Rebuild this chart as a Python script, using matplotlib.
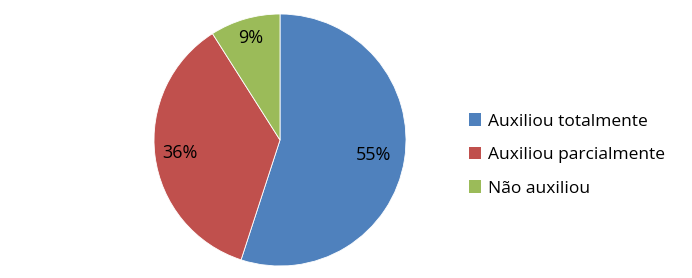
import matplotlib.pyplot as plt
from matplotlib.patches import Patch
import math

categories = ["Auxiliou totalmente", "Auxiliou parcialmente", "Não auxiliou"]
values = [55, 36, 9]
colors = ["#4F81BD", "#C0504D", "#9BBB59"]
label_dist = [0.75, 0.80, 0.84]

plt.rcParams['font.family'] = ['Open Sans', 'DejaVu Sans']

fig = plt.figure(figsize=(6.92, 2.78), dpi=100)
ax = fig.add_axes([(280 - 126) / 692, (278 - 140 - 126) / 278, 252 / 692, 252 / 278])

wedges, texts, autotexts = ax.pie(
    values, colors=colors, startangle=90, counterclock=False,
    autopct=lambda p: f"{p:.0f}%", pctdistance=0.78,
    wedgeprops=dict(edgecolor="white", linewidth=0.6),
    textprops=dict(fontsize=13, color="black"),
)
for w, t, d in zip(wedges, autotexts, label_dist):
    mid = math.radians((w.theta1 + w.theta2) / 2)
    t.set_position((d * math.cos(mid), d * math.sin(mid)))
ax.set_xlim(-1, 1)
ax.set_ylim(-1, 1)
ax.set_aspect('equal')

handles = [Patch(facecolor=c, edgecolor='none') for c in colors]
fig.legend(handles, categories, loc='center left', bbox_to_anchor=(453 / 692, 1 - 155 / 278),
           frameon=False, fontsize=12.5, handlelength=0.7, handleheight=0.7,
           handletextpad=0.4, labelspacing=1.0)

fig.savefig("out.png", dpi=100)
